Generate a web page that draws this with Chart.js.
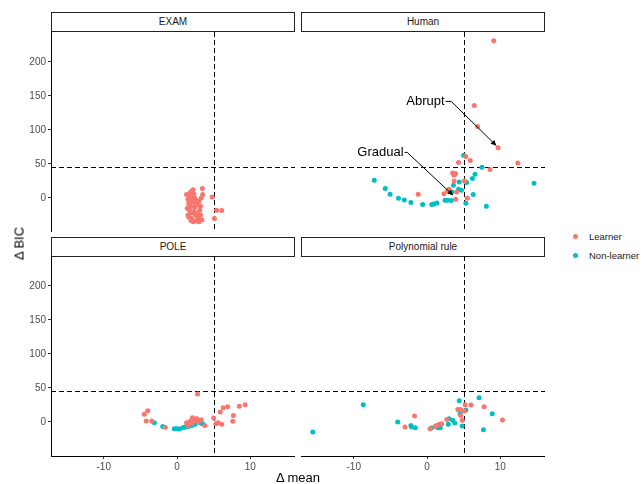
<!DOCTYPE html>
<html>
<head>
<meta charset="utf-8">
<script src="https://cdn.jsdelivr.net/npm/chart.js@4"></script>
<style>
  body { margin: 0; background: #fff; font-family: "Liberation Sans", Arial, sans-serif; }
  #wrap { position: relative; width: 644px; height: 484px; overflow: hidden; }
  canvas { position: absolute; }
  .strip { position: absolute; box-sizing: border-box; height: 20px; border: 1.5px solid #222;
           background: #fff; font-size: 10px; color: #1a1a1a; text-align: center; line-height: 17px; }
  .lab { position: absolute; color: #000; white-space: nowrap; font-weight: normal; }
  .key { position: absolute; width: 5px; height: 5px; border-radius: 50%; }
</style>
</head>
<body>
<div id="wrap">
  <div class="strip" style="left:51px;top:12px;width:244px">EXAM</div>
  <div class="strip" style="left:301px;top:12px;width:244px">Human</div>
  <div class="strip" style="left:51px;top:237px;width:244px">POLE</div>
  <div class="strip" style="left:301px;top:237px;width:244px">Polynomial rule</div>

  <canvas id="c-exam" width="295" height="200" style="left:0;top:32px"></canvas>
  <canvas id="c-human" width="244" height="200" style="left:301px;top:32px"></canvas>
  <canvas id="c-pole" width="295" height="228" style="left:0;top:256px"></canvas>
  <canvas id="c-poly" width="244" height="228" style="left:301px;top:256px"></canvas>

  <div class="lab" style="left:0;width:596px;top:470px;text-align:center;font-size:13px">Δ mean</div>
  <div class="lab" style="left:-11px;top:236px;font-size:13px;transform:rotate(-90deg);width:60px;text-align:center">Δ BIC</div>

  <div class="key" style="left:573px;top:234px;background:#F8766D"></div>
  <div class="lab" style="left:589px;top:231px;font-size:9.5px;color:#1a1a1a">Learner</div>
  <div class="key" style="left:573px;top:253px;background:#00BFC4"></div>
  <div class="lab" style="left:589px;top:250px;font-size:9.5px;color:#1a1a1a">Non-learner</div>
</div>

<script>
'use strict';

// ── axis setup ──
const xRange = [-17.2, 16.1];
const yRange = [-50, 244];
const xTicks = [-10, 0, 10];
const yTicks = [0, 50, 100, 150, 200];
const meanCut = 5;
const bicCut = 46;

// ── data: [Δ mean, Δ BIC] ──
const examLearner = [
  [1.3,5],[1.5,-2],[1.8,8],[2.0,10],[2.2,3],[1.6,-8],[1.9,-12],[2.1,-5],[2.4,0],[2.6,-3],
  [1.4,-15],[1.7,-18],[2.0,-22],[2.3,-20],[2.5,-25],[1.6,-28],[1.9,-33],[2.2,-35],[2.6,-34],[2.9,-30],
  [3.0,-35],[2.8,-22],[3.1,-18],[2.7,-10],[3.0,-5],[3.3,0],[3.5,5],[2.2,12],[1.8,2],[2.4,-14],
  [2.0,-30],[1.5,-25],[2.8,-28],[3.2,-25],[3.4,-32],[3.45,13.8],[4.8,1.5],[5.4,-18],[6.1,-18.5],[5.1,-30],
  [2.3,6],[1.9,-1],[2.5,-8],[3.2,-12],[1.7,-6]
];
const examNonLearner = [];

const humanLearner = [
  [9.1,231],[6.45,136],[6.9,105],[9.7,74],[12.4,51.5],[5.3,61],[5.9,55],[4.3,52],[8.6,41.7],
  [3.5,36.8],[3.9,35.9],[3.7,33.4],[5.1,25],[3.7,25],[-1.2,5.4],[3.0,12.8],[2.8,10.3],[2.3,6.4],
  [3.9,-2],[4.05,8.8],[5.5,-0.4]
];
const humanNonLearner = [
  [5.0,62.8],[7.5,45],[6.55,34.9],[6.2,28.5],[5.4,22.6],[4.4,23.5],[3.6,18.7],[-7.2,26],[-5.7,13.8],
  [-5.05,5.4],[-3.9,-0.4],[-3.1,-2.9],[-2.2,-6.8],[-0.6,-9.7],[0.64,-9.7],[0.95,-8.8],[1.36,-7.3],
  [2.46,-3.4],[2.8,-3.4],[3.3,-3.8],[3.4,8.8],[4.3,12.8],[4.7,11.3],[5.3,-7.8],[6.3,5],[8.1,-12.2],[14.6,21.6]
];

const poleLearner = [
  [2.8,41],[-4.46,11.2],[-4.0,16.6],[-4.2,1.5],[-3.45,1.5],[-1.6,-7.9],[1.3,-1],[1.8,0.9],[2.1,6.3],
  [2.3,3.8],[2.7,4.9],[2.0,-2.5],[2.5,0.9],[1.5,-5],[2.9,0],[3.3,3.4],[3.8,-5],[5.0,5.9],[5.3,-2.5],
  [5.6,-1],[6.1,-3.5],[5.9,14.7],[6.3,21],[6.9,22.5],[7.6,0.9],[7.7,9.7],[8.5,23],[9.3,25.4]
];
const poleNonLearner = [
  [-3.1,-1],[-1.95,-6.5],[-0.37,-9.9],[-0.04,-9.9],[0.3,-10.3],[0.78,-8.4],[1.1,-7.4],[1.54,-6.5],
  [2.0,-5],[2.46,-3.5],[3.2,-1.5],[3.5,-2.5]
];

const polyLearner = [
  [-3.0,-7.4],[-1.7,8.8],[0.4,-9.9],[1.1,-6.5],[1.3,-5],[1.7,-3.5],[2.0,-2.5],[2.7,3.8],[4.2,18.5],
  [4.6,18.5],[4.6,9.7],[4.8,2.4],[5.2,25.4],[6.0,25],[5.1,16.2],[7.8,22.5],[10.3,2.9]
];
const polyNonLearner = [
  [-15.6,-14.7],[-8.7,25.4],[-4.0,0],[-2.2,-5],[-2.1,-7.4],[-1.6,-8.4],[0.6,-8.8],[1.5,-8.4],[1.8,-8.4],
  [3.0,4.9],[3.5,2.4],[3.8,-1.5],[2.9,-3.5],[4.4,31.3],[4.5,12.2],[4.8,-5.9],[5.3,17.6],[7.1,35.7],
  [8.9,12.2],[7.7,-11.3]
];

// ── labelled points in the Human panel: text, text anchor, bend, arrow tip ──
const humanLabels = [
  { text: 'Abrupt',  at: [2.4, 142], bend: [3.3, 142], tip: [9.45, 77] },
  { text: 'Gradual', at: [-3.2, 67], bend: [-2.7, 67], tip: [3.55, 4] }
];

const toPts = arr => arr.map(p => ({ x: p[0], y: p[1] }));

// dashed cut-off lines
const cutLines = {
  id: 'cutLines',
  beforeDatasetsDraw(chart) {
    const { ctx, chartArea: a, scales: { x, y } } = chart;
    ctx.save();
    ctx.strokeStyle = '#000';
    ctx.lineWidth = 1;
    ctx.setLineDash([5, 3]);
    const vx = Math.round(x.getPixelForValue(meanCut)) + 0.5;
    const hy = Math.round(y.getPixelForValue(bicCut)) + 0.5;
    ctx.beginPath();
    ctx.moveTo(vx, a.top); ctx.lineTo(vx, a.bottom);
    ctx.moveTo(a.left, hy); ctx.lineTo(a.right, hy);
    ctx.stroke();
    ctx.restore();
  }
};

// ggrepel-style labels with arrows
const labelArrows = {
  id: 'labelArrows',
  afterDatasetsDraw(chart, args, opts) {
    if (!opts.items) return;
    const { ctx, scales: { x, y } } = chart;
    ctx.save();
    opts.items.forEach(l => {
      const tx = x.getPixelForValue(l.at[0]), ty = y.getPixelForValue(l.at[1]);
      const bx = x.getPixelForValue(l.bend[0]), by = y.getPixelForValue(l.bend[1]);
      const ex = x.getPixelForValue(l.tip[0]), ey = y.getPixelForValue(l.tip[1]);
      ctx.font = '13px "Liberation Sans", Arial, sans-serif';
      ctx.fillStyle = '#000';
      ctx.textAlign = 'right';
      ctx.textBaseline = 'middle';
      ctx.fillText(l.text, tx, ty);
      ctx.strokeStyle = '#000';
      ctx.lineWidth = 1;
      ctx.beginPath();
      ctx.moveTo(tx + 1, ty); ctx.lineTo(bx, by); ctx.lineTo(ex, ey);
      ctx.stroke();
      const ang = Math.atan2(ey - by, ex - bx);
      ctx.beginPath();
      ctx.moveTo(ex, ey);
      ctx.lineTo(ex - 6 * Math.cos(ang - 0.45), ey - 6 * Math.sin(ang - 0.45));
      ctx.lineTo(ex - 6 * Math.cos(ang + 0.45), ey - 6 * Math.sin(ang + 0.45));
      ctx.closePath();
      ctx.fillStyle = '#000';
      ctx.fill();
    });
    ctx.restore();
  }
};

function axisOpts(show, ticks, range, size) {
  const o = {
    type: 'linear',
    display: show,
    min: range[0],
    max: range[1],
    afterBuildTicks: s => { s.ticks = ticks.map(v => ({ value: v })); },
    grid: { display: true, drawOnChartArea: false, drawTicks: true, tickLength: 3, color: '#333' },
    border: { display: true, color: '#000', width: 1 },
    ticks: { color: '#4d4d4d', padding: 2, font: { size: 10, family: '"Liberation Sans", Arial, sans-serif' } }
  };
  // hidden axes keep zero size; shown ones get a fixed size and no label padding
  if (show) {
    o.afterFit = s => {
      s[size[0]] = size[1];
      s.paddingTop = s.paddingBottom = s.paddingLeft = s.paddingRight = 0;
    };
  }
  return o;
}

function makePanel(id, learner, nonLearner, showX, showY, labels) {
  return new Chart(document.getElementById(id), {
    type: 'scatter',
    data: {
      datasets: [
        { label: 'Learner', data: toPts(learner), backgroundColor: '#F8766D', borderWidth: 0, pointRadius: 2.5 },
        { label: 'Non-learner', data: toPts(nonLearner), backgroundColor: '#00BFC4', borderWidth: 0, pointRadius: 2.5 }
      ]
    },
    options: {
      responsive: false,
      animation: false,
      events: [],
      layout: { padding: 0, autoPadding: false },
      plugins: {
        legend: { display: false },
        tooltip: { enabled: false },
        labelArrows: { items: labels }
      },
      scales: {
        x: axisOpts(showX, xTicks, xRange, ['height', 28]),
        y: axisOpts(showY, yTicks, yRange, ['width', 51])
      }
    },
    plugins: [cutLines, labelArrows]
  });
}

makePanel('c-exam', examLearner, examNonLearner, false, true, null);
makePanel('c-human', humanLearner, humanNonLearner, false, false, humanLabels);
makePanel('c-pole', poleLearner, poleNonLearner, true, true, null);
makePanel('c-poly', polyLearner, polyNonLearner, true, false, null);
</script>
</body>
</html>
